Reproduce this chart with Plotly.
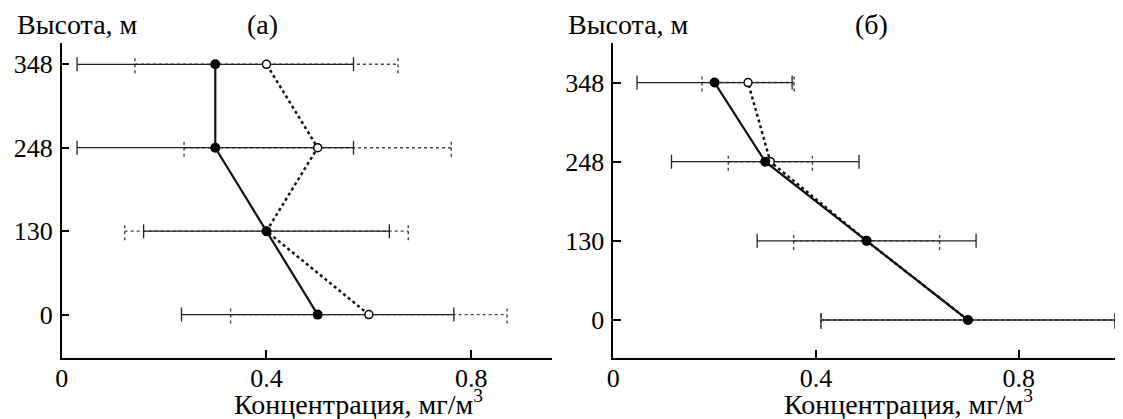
import plotly.graph_objects as go

# ---- data ----
heights = ["0", "130", "248", "348"]          # y tick labels (equally spaced levels)
levels = [0, 1, 2, 3]

# panel (а)
a_filled = [0.50, 0.40, 0.30, 0.30]
a_filled_err = [0.266, 0.240, 0.270, 0.270]
a_open = [0.60, 0.40, 0.50, 0.40]
a_open_err = [0.270, 0.277, 0.261, 0.257]

# panel (б)
b_filled = [0.70, 0.50, 0.30, 0.20]
b_filled_err = [0.290, 0.216, 0.185, 0.153]
b_open = [0.70, 0.50, 0.31, 0.266]
b_open_err = [0.290, 0.144, 0.083, 0.091]

x_ticks = [0, 0.4, 0.8]
x_ticklabels = ["0", "0.4", "0.8"]

FONT = "Liberation Serif, Times New Roman, serif"
PAGE_OFF = 8                      # default body margin of the html page
W, H = 1123 - PAGE_OFF, 419       # figure size (bottom may overflow slightly)


def fx(px):   # page x pixel -> paper x
    return (px - PAGE_OFF) / W


def fy(py):   # page y pixel -> paper y
    return (H - (py - PAGE_OFF)) / H


def dotted_bars(xs, errs, cap):
    px, py = [], []
    for x, e, y in zip(xs, errs, levels):
        px += [x - e, x + e, None, x - e, x - e, None, x + e, x + e, None]
        py += [y, y, None, y - cap, y + cap, None, y - cap, y + cap, None]
    return px, py


fig = go.Figure()


def add_panel(xa, ya, filled, ferr, opn, oerr, cap):
    bx, by = dotted_bars(opn, oerr, cap)
    fig.add_trace(go.Scatter(x=bx, y=by, mode="lines", xaxis=xa, yaxis=ya,
                             line=dict(color="#444444", width=1.4, dash="dot"),
                             hoverinfo="skip", showlegend=False))
    fig.add_trace(go.Scatter(x=filled, y=levels, mode="markers", xaxis=xa, yaxis=ya,
                             marker=dict(size=1, color="rgba(0,0,0,0)"),
                             error_x=dict(type="data", array=ferr, visible=True,
                                          color="#222222", thickness=1.3, width=7),
                             showlegend=False))
    fig.add_trace(go.Scatter(x=opn, y=levels, mode="lines+markers", xaxis=xa, yaxis=ya,
                             line=dict(color="#111111", width=2.5, dash="dot"),
                             marker=dict(size=8, color="white",
                                         line=dict(color="black", width=1.5)),
                             showlegend=False))
    fig.add_trace(go.Scatter(x=filled, y=levels, mode="lines+markers", xaxis=xa, yaxis=ya,
                             line=dict(color="#111111", width=2.2),
                             marker=dict(size=10, color="black"),
                             showlegend=False))


add_panel("x", "y", a_filled, a_filled_err, a_open, a_open_err, 0.108)
add_panel("x2", "y2", b_filled, b_filled_err, b_open, b_open_err, 0.114)

ax_common = dict(showline=True, linecolor="black", linewidth=1.5, showgrid=False,
                 zeroline=False, ticks="inside", ticklen=8, tickwidth=1.5,
                 tickcolor="black", tickfont=dict(family=FONT, size=26, color="black"))

yd = [fy(358), fy(43)]
fig.update_layout(
    width=W, height=H, margin=dict(l=0, r=0, t=0, b=0),
    paper_bgcolor="white", plot_bgcolor="white", showlegend=False,
    font=dict(family=FONT, color="black"),
    xaxis=dict(domain=[fx(55), fx(548)], range=[0, 0.957], tickvals=x_ticks,
               ticktext=x_ticklabels, anchor="y", ticklabelstandoff=-4, **ax_common),
    yaxis=dict(domain=yd, range=[-0.52, 3.255], tickvals=levels, ticktext=heights,
               anchor="x", ticklabelstandoff=2, **ax_common),
    xaxis2=dict(domain=[fx(610), min(1.0, fx(1120))], range=[0, 1.0], tickvals=x_ticks,
                ticktext=x_ticklabels, anchor="y2", ticklabelstandoff=-4, **ax_common),
    yaxis2=dict(domain=yd, range=[-0.48, 3.5], tickvals=levels, ticktext=heights,
                anchor="x2", ticklabelstandoff=2, **ax_common),
)


def ann(text, xpx, ypx, xanchor, size=28):
    fig.add_annotation(text=text, xref="paper", yref="paper", x=fx(xpx),
                       y=fy(ypx), xanchor=xanchor, yanchor="middle",
                       showarrow=False, font=dict(family=FONT, size=size, color="black"))


ann("Высота, м", 8, 24, "left")
ann("(а)", 257, 24, "center")
ann("Высота, м", 562, 24, "left")
ann("(б)", 870, 24, "center")
ann("Концентрация, мг/м<sup>3</sup>", 354, 402, "center", 28)
ann("Концентрация, мг/м<sup>3</sup>", 907, 402, "center", 28)

fig.write_html("out.html")
